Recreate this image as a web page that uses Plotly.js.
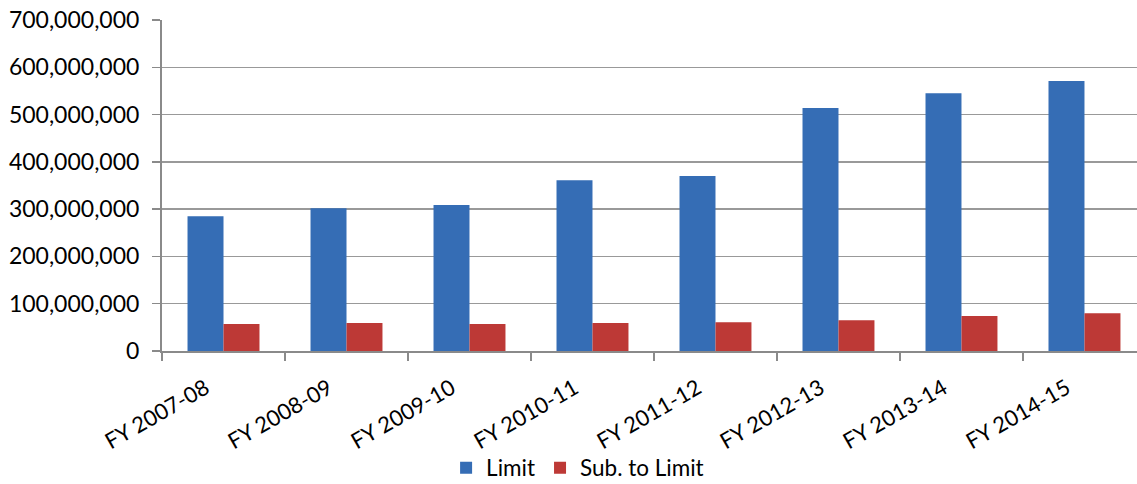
<!DOCTYPE html>
<html>
<head>
<meta charset="utf-8">
<script src="https://cdn.plot.ly/plotly-3.0.1.min.js"></script>
<style>html,body{margin:0;padding:0;background:#fff;}#chart{width:1137px;height:484px;}</style>
</head>
<body>
<div id="chart"></div>
<script>
var categories = ["FY 2007-08","FY 2008-09","FY 2009-10","FY 2010-11","FY 2011-12","FY 2012-13","FY 2013-14","FY 2014-15"];
var limitValues = [285000000, 302000000, 309000000, 361000000, 370000000, 514000000, 545000000, 571000000];
var subToLimitValues = [57000000, 59000000, 57000000, 59000000, 61000000, 65000000, 74000000, 80000000];
var yTickValues = [0, 100000000, 200000000, 300000000, 400000000, 500000000, 600000000, 700000000];
var yTickLabels = ["0","100,000,000","200,000,000","300,000,000","400,000,000","500,000,000","600,000,000","700,000,000"];

var font = "Lato, 'Open Sans', sans-serif";
var traces = [
  {type:"bar", name:"Limit", x:categories, y:limitValues,
   marker:{color:"#356DB5"}, hoverinfo:"none"},
  {type:"bar", name:"Sub. to Limit", x:categories, y:subToLimitValues,
   marker:{color:"#BD3936"}, hoverinfo:"none"}
];
var layout = {
  width:1137, height:484,
  margin:{l:162, r:0, t:20, b:133},
  paper_bgcolor:"#fff", plot_bgcolor:"#fff",
  barmode:"group", bargap:0.415, bargroupgap:0,
  font:{family:font, size:21, color:"#000"},
  showlegend:true,
  legend:{orientation:"h", xref:"container", yref:"container", x:0.508, y:0.033,
          xanchor:"center", yanchor:"middle", font:{family:font, size:22.5, color:"#000"},
          bgcolor:"rgba(0,0,0,0)", itemwidth:30, traceorder:"normal"},
  xaxis:{type:"category", range:[-0.5, 7.427], tickangle:-30,
         showline:true, linecolor:"#8a8a8a", linewidth:2,
         ticks:"outside", tickson:"boundaries", ticklen:8, tickcolor:"#8a8a8a", tickwidth:1.5,
         showgrid:false, tickfont:{family:font, size:22, color:"#000"},
         ticklabelshift:-18, ticklabelstandoff:14},
  yaxis:{range:[0, 700000000], tickvals:yTickValues, ticktext:yTickLabels,
         showline:true, linecolor:"#8a8a8a", linewidth:2,
         ticks:"outside", ticklen:8, tickcolor:"#8a8a8a", tickwidth:1.5,
         showgrid:true, gridcolor:"#999999", gridwidth:1.5, zeroline:false,
         tickfont:{family:font, size:23, color:"#000"}, ticklabelstandoff:8}
};
Plotly.newPlot("chart", traces, layout, {displayModeBar:false, staticPlot:true});
</script>
</body>
</html>
